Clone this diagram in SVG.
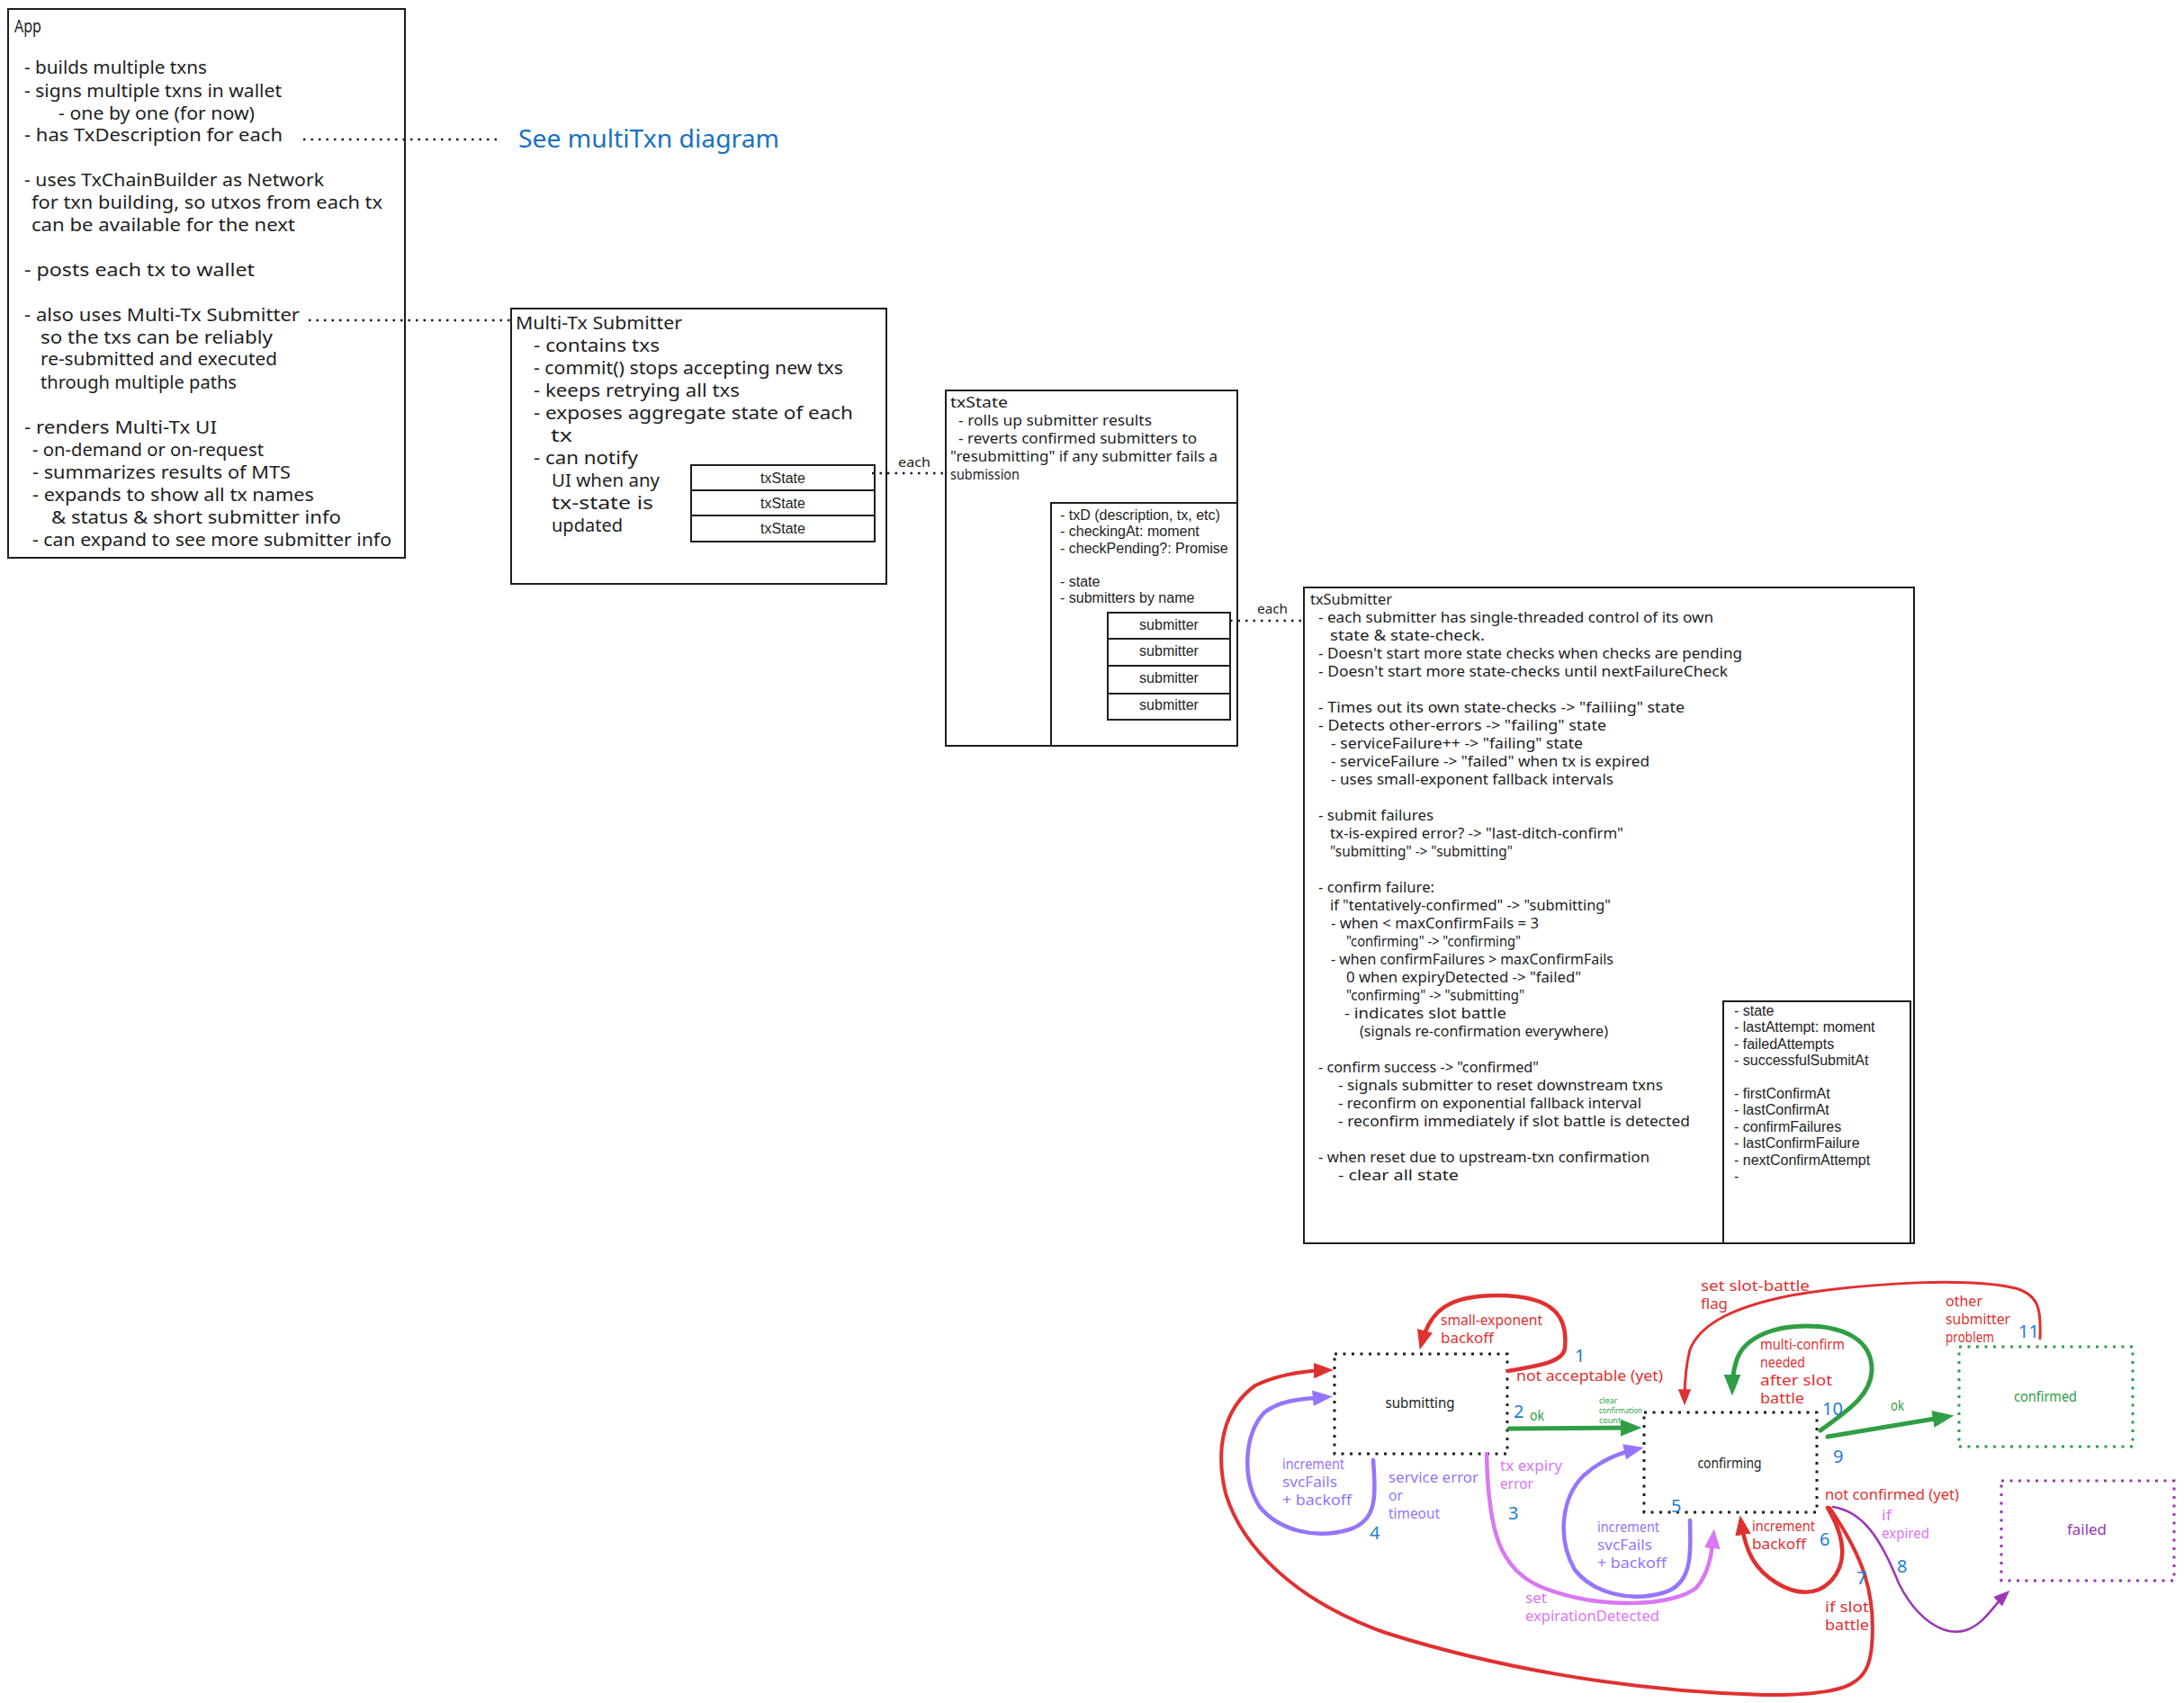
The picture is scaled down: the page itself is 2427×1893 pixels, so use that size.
<svg xmlns="http://www.w3.org/2000/svg" width="2427" height="1893" viewBox="0 0 2427 1893">
  <style>
    .hand { font-family: "Noto Sans", "Liberation Sans", sans-serif; fill: #1e1e1e; }
    .helv { font-family: "Liberation Sans", Arial, sans-serif; fill: #1e1e1e; }
    .f20 { font-size: 20px; }
    .f16 { font-size: 16px; }
    .f14 { font-size: 14px; }
    .box { fill: #ffffff; stroke: #1e1e1e; stroke-width: 2; }
    .dotc { fill: none; stroke: #1e1e1e; stroke-width: 2.5; stroke-dasharray: 2.5 6; }
    .state { fill: none; stroke-width: 3; stroke-dasharray: 3 6.5; }
    .arr { fill: none; stroke-linecap: round; stroke-linejoin: round; }
    .red { fill: #e03131; }
    .green { fill: #2f9e44; }
    .violet { fill: #9775fa; }
    .pink { fill: #da77f2; }
    .purple { fill: #9c36b5; }
    .num { fill: #1c7ed6; font-size: 20px; }
    .mid { text-anchor: middle; }
  </style>
  <defs>
    <marker id="ah-red" viewBox="0 0 20 16" refX="12" refY="8" markerWidth="22" markerHeight="18" markerUnits="userSpaceOnUse" orient="auto">
      <path d="M0,0 L20,8 L0,16 z" fill="#e03131"/>
    </marker>
    <marker id="ah-red-s" viewBox="0 0 20 16" refX="12" refY="8" markerWidth="18" markerHeight="15" markerUnits="userSpaceOnUse" orient="auto">
      <path d="M0,0 L20,8 L0,16 z" fill="#e03131"/>
    </marker>
    <marker id="ah-green" viewBox="0 0 20 16" refX="12" refY="8" markerWidth="24" markerHeight="19" markerUnits="userSpaceOnUse" orient="auto">
      <path d="M0,0 L20,8 L0,16 z" fill="#2f9e44"/>
    </marker>
    <marker id="ah-violet" viewBox="0 0 20 16" refX="12" refY="8" markerWidth="22" markerHeight="18" markerUnits="userSpaceOnUse" orient="auto">
      <path d="M0,0 L20,8 L0,16 z" fill="#9775fa"/>
    </marker>
    <marker id="ah-pink" viewBox="0 0 20 16" refX="12" refY="8" markerWidth="22" markerHeight="18" markerUnits="userSpaceOnUse" orient="auto">
      <path d="M0,0 L20,8 L0,16 z" fill="#da77f2"/>
    </marker>
    <marker id="ah-purple" viewBox="0 0 20 16" refX="12" refY="8" markerWidth="18" markerHeight="15" markerUnits="userSpaceOnUse" orient="auto">
      <path d="M0,0 L20,8 L0,16 z" fill="#9c36b5"/>
    </marker>
  </defs>

  <rect x="0" y="0" width="2427" height="1893" fill="#ffffff"/>

  <!-- App description -->
  <g id="app">
    <rect class="box" x="9" y="10" width="441" height="610"/>
    <g class="hand f20">
      <text x="16" y="36" textLength="30" lengthAdjust="spacingAndGlyphs">App</text>
      <text x="27" y="82" textLength="203" lengthAdjust="spacingAndGlyphs">- builds multiple txns</text>
      <text x="27" y="108" textLength="286" lengthAdjust="spacingAndGlyphs">- signs multiple txns in wallet</text>
      <text x="65" y="133" textLength="218" lengthAdjust="spacingAndGlyphs">- one by one (for now)</text>
      <text x="27" y="157" textLength="287" lengthAdjust="spacingAndGlyphs">- has TxDescription for each</text>
      <text x="27" y="207" textLength="333" lengthAdjust="spacingAndGlyphs">- uses TxChainBuilder as Network</text>
      <text x="35" y="232" textLength="390" lengthAdjust="spacingAndGlyphs">for txn building, so utxos from each tx</text>
      <text x="35" y="257" textLength="293" lengthAdjust="spacingAndGlyphs">can be available for the next</text>
      <text x="27" y="307" textLength="256" lengthAdjust="spacingAndGlyphs">- posts each tx to wallet</text>
      <text x="27" y="357" textLength="306" lengthAdjust="spacingAndGlyphs">- also uses Multi-Tx Submitter</text>
      <text x="45" y="382" textLength="258" lengthAdjust="spacingAndGlyphs">so the txs can be reliably</text>
      <text x="45" y="406" textLength="263" lengthAdjust="spacingAndGlyphs">re-submitted and executed</text>
      <text x="45" y="432" textLength="218" lengthAdjust="spacingAndGlyphs">through multiple paths</text>
      <text x="27" y="482" textLength="214" lengthAdjust="spacingAndGlyphs">- renders Multi-Tx UI</text>
      <text x="36" y="507" textLength="257" lengthAdjust="spacingAndGlyphs">- on-demand or on-request</text>
      <text x="36" y="532" textLength="287" lengthAdjust="spacingAndGlyphs">- summarizes results of MTS</text>
      <text x="36" y="557" textLength="313" lengthAdjust="spacingAndGlyphs">- expands to show all tx names</text>
      <text x="57" y="582" textLength="322" lengthAdjust="spacingAndGlyphs">&amp; status &amp; short submitter info</text>
      <text x="36" y="607" textLength="399" lengthAdjust="spacingAndGlyphs">- can expand to see more submitter info</text>
    </g>
  </g>

  <!-- reference note -->
  <g id="multitxn-note">
    <text class="hand" x="576" y="164" font-size="28" fill="#1971c2" style="fill:#1971c2" textLength="290" lengthAdjust="spacingAndGlyphs">See multiTxn diagram</text>
  </g>

  <!-- Multi-Tx Submitter -->
  <g id="multi-tx-submitter">
    <rect class="box" x="568" y="343" width="417" height="306"/>
    <g class="hand f20">
      <text x="573" y="366" textLength="185" lengthAdjust="spacingAndGlyphs">Multi-Tx Submitter</text>
      <text x="593" y="391" textLength="140" lengthAdjust="spacingAndGlyphs">- contains txs</text>
      <text x="593" y="416" textLength="344" lengthAdjust="spacingAndGlyphs">- commit() stops accepting new txs</text>
      <text x="593" y="441" textLength="229" lengthAdjust="spacingAndGlyphs">- keeps retrying all txs</text>
      <text x="593" y="466" textLength="355" lengthAdjust="spacingAndGlyphs">- exposes aggregate state of each</text>
      <text x="612" y="491" textLength="24" lengthAdjust="spacingAndGlyphs">tx</text>
      <text x="593" y="516" textLength="116" lengthAdjust="spacingAndGlyphs">- can notify</text>
      <text x="613" y="541" textLength="120" lengthAdjust="spacingAndGlyphs">UI when any</text>
      <text x="613" y="566" textLength="113" lengthAdjust="spacingAndGlyphs">tx-state is</text>
      <text x="613" y="591" textLength="79" lengthAdjust="spacingAndGlyphs">updated</text>
    </g>
  </g>

  <!-- txState list rows -->
  <g id="txstate-rows">
    <rect class="box" x="768" y="517" width="204" height="28" stroke-width="3"/>
    <rect class="box" x="768" y="545" width="204" height="28"/>
    <rect class="box" x="768" y="573" width="204" height="29"/>
    <g class="helv f16 mid">
      <text x="870" y="537">txState</text>
      <text x="870" y="565">txState</text>
      <text x="870" y="593">txState</text>
    </g>
  </g>

  <!-- txState -->
  <g id="txstate">
    <rect class="box" x="1051" y="434" width="324" height="395"/>
    <g class="hand f16">
      <text x="1056" y="453" textLength="64" lengthAdjust="spacingAndGlyphs">txState</text>
      <text x="1065" y="473" textLength="215" lengthAdjust="spacingAndGlyphs">- rolls up submitter results</text>
      <text x="1065" y="493" textLength="265" lengthAdjust="spacingAndGlyphs">- reverts confirmed submitters to</text>
      <text x="1056" y="513" textLength="297" lengthAdjust="spacingAndGlyphs">"resubmitting" if any submitter fails a</text>
      <text x="1056" y="533" textLength="77" lengthAdjust="spacingAndGlyphs">submission</text>
    </g>
    <rect class="box" x="1168" y="559" width="207" height="270"/>
    <g class="helv f16">
      <text x="1178" y="578">- txD (description, tx, etc)</text>
      <text x="1178" y="596">- checkingAt: moment</text>
      <text x="1178" y="615">- checkPending?: Promise</text>
      <text x="1178" y="652">- state</text>
      <text x="1178" y="670">- submitters by name</text>
    </g>
  </g>

  <!-- submitter list rows -->
  <g id="submitter-rows">
    <rect class="box" x="1231" y="681" width="136" height="29"/>
    <rect class="box" x="1231" y="710" width="136" height="30"/>
    <rect class="box" x="1231" y="740" width="136" height="31" stroke-width="2.5"/>
    <rect class="box" x="1231" y="771" width="136" height="29"/>
    <g class="helv f16 mid">
      <text x="1299" y="700">submitter</text>
      <text x="1299" y="729">submitter</text>
      <text x="1299" y="759">submitter</text>
      <text x="1299" y="789">submitter</text>
    </g>
  </g>

  <!-- txSubmitter -->
  <g id="txsubmitter">
    <rect class="box" x="1449" y="653" width="678" height="729"/>
    <g class="hand f16">
      <text x="1456" y="672" textLength="91" lengthAdjust="spacingAndGlyphs">txSubmitter</text>
      <text x="1465" y="692" textLength="439" lengthAdjust="spacingAndGlyphs">- each submitter has single-threaded control of its own</text>
      <text x="1478" y="712" textLength="172" lengthAdjust="spacingAndGlyphs">state &amp; state-check.</text>
      <text x="1465" y="732" textLength="471" lengthAdjust="spacingAndGlyphs">- Doesn't start more state checks when checks are pending</text>
      <text x="1465" y="752" textLength="455" lengthAdjust="spacingAndGlyphs">- Doesn't start more state-checks until nextFailureCheck</text>
      <text x="1465" y="792" textLength="407" lengthAdjust="spacingAndGlyphs">- Times out its own state-checks -&gt; "failiing" state</text>
      <text x="1465" y="812" textLength="320" lengthAdjust="spacingAndGlyphs">- Detects other-errors -&gt; "failing" state</text>
      <text x="1479" y="832" textLength="280" lengthAdjust="spacingAndGlyphs">- serviceFailure++ -&gt; "failing" state</text>
      <text x="1479" y="852" textLength="354" lengthAdjust="spacingAndGlyphs">- serviceFailure -&gt; "failed" when tx is expired</text>
      <text x="1479" y="872" textLength="314" lengthAdjust="spacingAndGlyphs">- uses small-exponent fallback intervals</text>
      <text x="1465" y="912" textLength="128" lengthAdjust="spacingAndGlyphs">- submit failures</text>
      <text x="1478" y="932" textLength="326" lengthAdjust="spacingAndGlyphs">tx-is-expired error? -&gt; "last-ditch-confirm"</text>
      <text x="1478" y="952" textLength="203" lengthAdjust="spacingAndGlyphs">"submitting" -&gt; "submitting"</text>
      <text x="1465" y="992" textLength="129" lengthAdjust="spacingAndGlyphs">- confirm failure:</text>
      <text x="1478" y="1012" textLength="312" lengthAdjust="spacingAndGlyphs">if "tentatively-confirmed" -&gt; "submitting"</text>
      <text x="1479" y="1032" textLength="231" lengthAdjust="spacingAndGlyphs">- when &lt; maxConfirmFails = 3</text>
      <text x="1496" y="1052" textLength="194" lengthAdjust="spacingAndGlyphs">"confirming" -&gt; "confirming"</text>
      <text x="1479" y="1072" textLength="314" lengthAdjust="spacingAndGlyphs">- when confirmFailures &gt; maxConfirmFails</text>
      <text x="1496" y="1092" textLength="261" lengthAdjust="spacingAndGlyphs">0 when expiryDetected -&gt; "failed"</text>
      <text x="1496" y="1112" textLength="198" lengthAdjust="spacingAndGlyphs">"confirming" -&gt; "submitting"</text>
      <text x="1494" y="1132" textLength="180" lengthAdjust="spacingAndGlyphs">- indicates slot battle</text>
      <text x="1511" y="1152" textLength="276" lengthAdjust="spacingAndGlyphs">(signals re-confirmation everywhere)</text>
      <text x="1465" y="1192" textLength="245" lengthAdjust="spacingAndGlyphs">- confirm success -&gt; "confirmed"</text>
      <text x="1487" y="1212" textLength="361" lengthAdjust="spacingAndGlyphs">- signals submitter to reset downstream txns</text>
      <text x="1487" y="1232" textLength="337" lengthAdjust="spacingAndGlyphs">- reconfirm on exponential fallback interval</text>
      <text x="1487" y="1252" textLength="391" lengthAdjust="spacingAndGlyphs">- reconfirm immediately if slot battle is detected</text>
      <text x="1465" y="1292" textLength="368" lengthAdjust="spacingAndGlyphs">- when reset due to upstream-txn confirmation</text>
      <text x="1487" y="1312" textLength="134" lengthAdjust="spacingAndGlyphs">- clear all state</text>
    </g>
    <rect class="box" x="1915" y="1113" width="208" height="269"/>
    <g class="helv f16">
      <text x="1927" y="1129">- state</text>
      <text x="1927" y="1147">- lastAttempt: moment</text>
      <text x="1927" y="1166">- failedAttempts</text>
      <text x="1927" y="1184">- successfulSubmitAt</text>
      <text x="1927" y="1221">- firstConfirmAt</text>
      <text x="1927" y="1239">- lastConfirmAt</text>
      <text x="1927" y="1258">- confirmFailures</text>
      <text x="1927" y="1276">- lastConfirmFailure</text>
      <text x="1927" y="1295">- nextConfirmAttempt</text>
      <text x="1927" y="1313">-</text>
    </g>
  </g>

  <!-- submitter states -->
  <g id="state-submitting">
    <rect class="state" x="1483" y="1505" width="192" height="111" stroke="#1e1e1e"/>
    <text class="hand f16 mid" x="1578" y="1565" textLength="77" lengthAdjust="spacingAndGlyphs">submitting</text>
  </g>
  <g id="state-confirming">
    <rect class="state" x="1827" y="1570" width="192" height="111" stroke="#1e1e1e"/>
    <text class="hand f16 mid" x="1922" y="1632" textLength="71" lengthAdjust="spacingAndGlyphs">confirming</text>
  </g>
  <g id="state-confirmed">
    <rect class="state" x="2177" y="1497" width="193" height="111" stroke="#2f9e44"/>
    <text class="hand f16 mid green" x="2273" y="1558" textLength="70" lengthAdjust="spacingAndGlyphs">confirmed</text>
  </g>
  <g id="state-failed">
    <rect class="state" x="2224" y="1646" width="192" height="111" stroke="#9c36b5"/>
    <text class="hand f16 mid purple" x="2319" y="1706" textLength="44" lengthAdjust="spacingAndGlyphs">failed</text>
  </g>

  <!-- connectors -->
  <g id="connectors">
    <!-- dotted associations -->
    <path class="dotc" d="M337,155 L557,155"/>
    <path class="dotc" d="M343,356 L567,356"/>
    <path class="dotc" d="M969,526 L1051,526"/>
    <text class="hand f14" x="998" y="519" textLength="36" lengthAdjust="spacingAndGlyphs">each</text>
    <path class="dotc" d="M1367,690 L1449,690"/>
    <text class="hand f14" x="1397" y="682" textLength="34" lengthAdjust="spacingAndGlyphs">each</text>

    <!-- 1: not acceptable (yet) -> submitting -->
    <path class="arr" stroke="#e03131" stroke-width="4.5" marker-end="url(#ah-red)" d="M1676,1524 C1710,1518 1738,1514 1739,1498 C1742,1468 1732,1440 1664,1440 C1612,1440 1590,1455 1580,1492"/>
    <!-- 2: ok -> confirming -->
    <path class="arr" stroke="#2f9e44" stroke-width="5" marker-end="url(#ah-green)" d="M1677,1588 L1815,1587"/>
    <!-- 3: tx expiry error -> confirming -->
    <path class="arr" stroke="#da77f2" stroke-width="4.5" marker-end="url(#ah-pink)" d="M1652,1616 C1654,1700 1665,1745 1715,1765 C1780,1790 1860,1785 1885,1765 C1898,1750 1902,1730 1904,1708"/>
    <!-- 4: service error or timeout -> submitting -->
    <path class="arr" stroke="#9775fa" stroke-width="4.5" marker-end="url(#ah-violet)" d="M1526,1623 C1529,1665 1530,1690 1500,1700 C1460,1712 1420,1700 1400,1675 C1380,1645 1382,1595 1405,1570 C1425,1555 1450,1555 1472,1553"/>
    <!-- 5: service error -> confirming -->
    <path class="arr" stroke="#9775fa" stroke-width="4.5" marker-end="url(#ah-violet)" d="M1878,1690 C1879,1730 1880,1760 1850,1770 C1810,1782 1770,1770 1750,1745 C1730,1710 1735,1665 1760,1640 C1780,1622 1800,1615 1818,1611"/>
    <!-- 6: not confirmed (yet) -> confirming -->
    <path class="arr" stroke="#e03131" stroke-width="4.5" marker-end="url(#ah-red)" d="M2031,1676 C2048,1705 2055,1735 2035,1757 C2018,1775 1995,1772 1975,1760 C1950,1745 1940,1725 1935,1693"/>
    <!-- 7: if slot battle -> submitting -->
    <path class="arr" stroke="#e03131" stroke-width="4" marker-end="url(#ah-red)" d="M2033,1676 C2070,1730 2085,1770 2080,1830 C2076,1870 2060,1885 1960,1884 C1800,1880 1650,1850 1540,1815 C1440,1780 1380,1720 1362,1660 C1350,1610 1360,1565 1395,1540 C1420,1528 1445,1524 1473,1523"/>
    <!-- 8: if expired -> failed -->
    <path class="arr" stroke="#9c36b5" stroke-width="2.5" marker-end="url(#ah-purple)" d="M2037,1675 C2070,1680 2090,1710 2110,1760 C2130,1800 2160,1820 2185,1812 C2205,1805 2215,1785 2228,1773"/>
    <!-- 9: ok -> confirmed -->
    <path class="arr" stroke="#2f9e44" stroke-width="5" marker-end="url(#ah-green)" d="M2031,1597 L2162,1575"/>
    <!-- 10: multi-confirm needed after slot battle -->
    <path class="arr" stroke="#2f9e44" stroke-width="5" marker-end="url(#ah-green)" d="M2023,1590 C2050,1570 2080,1552 2080,1522 C2080,1490 2050,1474 2008,1474 C1965,1474 1935,1490 1929,1515 C1926,1525 1925,1535 1925,1542"/>
    <!-- 11: other submitter problem -> confirming -->
    <path class="arr" stroke="#e03131" stroke-width="3" marker-end="url(#ah-red-s)" d="M2267,1488 C2268,1460 2268,1440 2240,1432 C2190,1420 2080,1425 1990,1440 C1930,1452 1890,1470 1878,1500 C1873,1520 1872,1540 1872,1555"/>

    <!-- transition labels -->
    <g class="hand f16 red">
      <text x="1601" y="1473" textLength="113" lengthAdjust="spacingAndGlyphs">small-exponent</text>
      <text x="1601" y="1493" textLength="59" lengthAdjust="spacingAndGlyphs">backoff</text>
      <text x="1685" y="1535" textLength="163" lengthAdjust="spacingAndGlyphs">not acceptable (yet)</text>
      <text x="1890" y="1435" textLength="121" lengthAdjust="spacingAndGlyphs">set slot-battle</text>
      <text x="1890" y="1455" textLength="30" lengthAdjust="spacingAndGlyphs">flag</text>
      <text x="2162" y="1452" textLength="41" lengthAdjust="spacingAndGlyphs">other</text>
      <text x="2162" y="1472" textLength="72" lengthAdjust="spacingAndGlyphs">submitter</text>
      <text x="2162" y="1492" textLength="54" lengthAdjust="spacingAndGlyphs">problem</text>
      <text x="1956" y="1500" textLength="94" lengthAdjust="spacingAndGlyphs">multi-confirm</text>
      <text x="1956" y="1520" textLength="50" lengthAdjust="spacingAndGlyphs">needed</text>
      <text x="1956" y="1540" textLength="80" lengthAdjust="spacingAndGlyphs">after slot</text>
      <text x="1956" y="1560" textLength="49" lengthAdjust="spacingAndGlyphs">battle</text>
      <text x="2028" y="1667" textLength="149" lengthAdjust="spacingAndGlyphs">not confirmed (yet)</text>
      <text x="1947" y="1702" textLength="70" lengthAdjust="spacingAndGlyphs">increment</text>
      <text x="1947" y="1722" textLength="60" lengthAdjust="spacingAndGlyphs">backoff</text>
      <text x="2028" y="1792" textLength="49" lengthAdjust="spacingAndGlyphs">if slot</text>
      <text x="2028" y="1812" textLength="49" lengthAdjust="spacingAndGlyphs">battle</text>
    </g>
    <g class="hand f16 green">
      <text x="1700" y="1579" textLength="16" lengthAdjust="spacingAndGlyphs">ok</text>
      <text x="2101" y="1568" textLength="15" lengthAdjust="spacingAndGlyphs">ok</text>
      <text x="1777" y="1560" font-size="9">clear</text>
      <text x="1777" y="1571" font-size="9" textLength="48" lengthAdjust="spacingAndGlyphs">confirmation</text>
      <text x="1777" y="1582" font-size="9">count</text>
    </g>
    <g class="hand f16 pink">
      <text x="1667" y="1635" textLength="69" lengthAdjust="spacingAndGlyphs">tx expiry</text>
      <text x="1667" y="1655" textLength="37" lengthAdjust="spacingAndGlyphs">error</text>
      <text x="1695" y="1782" textLength="24" lengthAdjust="spacingAndGlyphs">set</text>
      <text x="1695" y="1802" textLength="149" lengthAdjust="spacingAndGlyphs">expirationDetected</text>
      <text x="2091" y="1690" textLength="11" lengthAdjust="spacingAndGlyphs">if</text>
      <text x="2091" y="1710" textLength="53" lengthAdjust="spacingAndGlyphs">expired</text>
    </g>
    <g class="hand f16 violet">
      <text x="1425" y="1633" textLength="69" lengthAdjust="spacingAndGlyphs">increment</text>
      <text x="1425" y="1653" textLength="61" lengthAdjust="spacingAndGlyphs">svcFails</text>
      <text x="1425" y="1673" textLength="77" lengthAdjust="spacingAndGlyphs">+ backoff</text>
      <text x="1543" y="1648" textLength="100" lengthAdjust="spacingAndGlyphs">service error</text>
      <text x="1543" y="1668" textLength="16" lengthAdjust="spacingAndGlyphs">or</text>
      <text x="1543" y="1688" textLength="57" lengthAdjust="spacingAndGlyphs">timeout</text>
      <text x="1775" y="1703" textLength="69" lengthAdjust="spacingAndGlyphs">increment</text>
      <text x="1775" y="1723" textLength="61" lengthAdjust="spacingAndGlyphs">svcFails</text>
      <text x="1775" y="1743" textLength="77" lengthAdjust="spacingAndGlyphs">+ backoff</text>
    </g>
    <g class="hand num">
      <text x="1750" y="1514">1</text>
      <text x="1682" y="1576">2</text>
      <text x="1676" y="1689">3</text>
      <text x="1522" y="1711">4</text>
      <text x="1857" y="1681">5</text>
      <text x="2022" y="1718">6</text>
      <text x="2063" y="1761">7</text>
      <text x="2108" y="1748">8</text>
      <text x="2037" y="1626">9</text>
      <text x="2025" y="1573">10</text>
      <text x="2243" y="1487">11</text>
    </g>
  </g>
</svg>
